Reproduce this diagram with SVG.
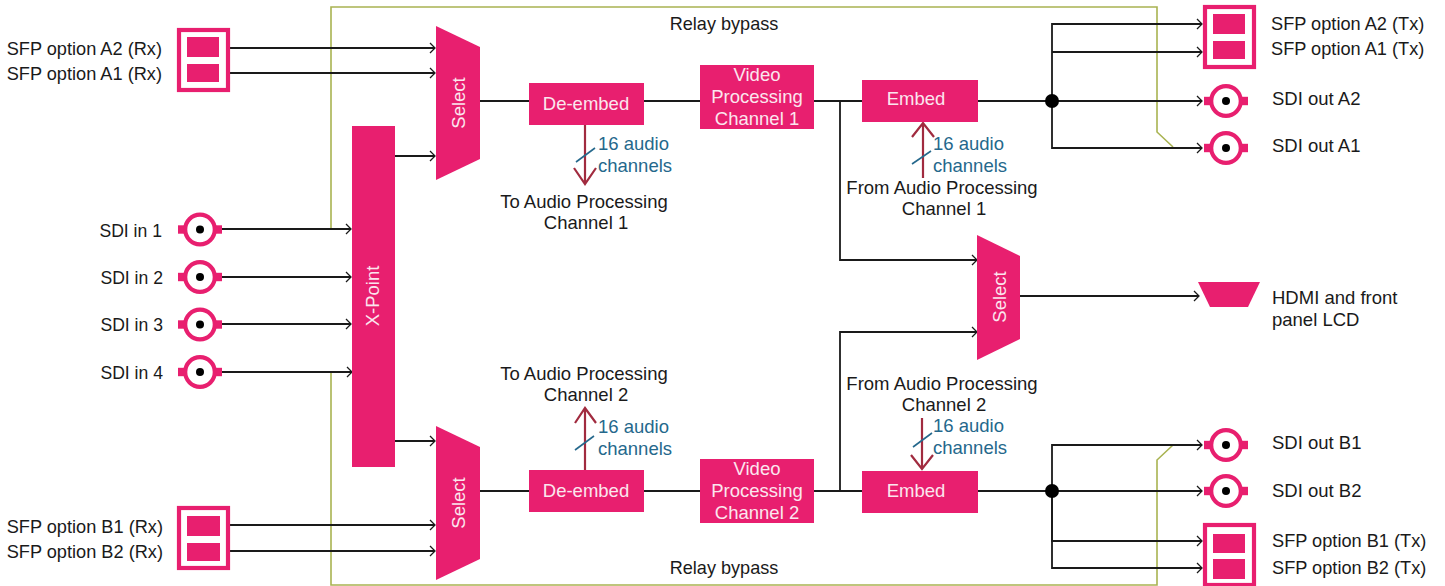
<svg xmlns="http://www.w3.org/2000/svg" xmlns:xlink="http://www.w3.org/1999/xlink" width="1445" height="586" viewBox="0 0 1445 586">
<style>
text{font-family:"Liberation Sans",Arial,sans-serif;font-size:18.5px;fill:#1a1a1a}
.w{fill:#fbe6ee;text-anchor:middle}
.m{text-anchor:middle}
.e{text-anchor:end}
.t{fill:#25688c}
.o{font-size:18.2px}
.i{font-size:17.6px}
.y{font-size:18.1px}
.p{fill:#e81f6f}
.l{fill:none;stroke:#1a1a1a;stroke-width:1.8}
.a{marker-end:url(#ah)}
.b{fill:none;stroke:#a9b351;stroke-width:1.6}
.r{fill:none;stroke:#a12b3f;stroke-width:2.2}
.s{fill:none;stroke:#25688c;stroke-width:1.6}
.f{fill:#fff;stroke:#e81f6f;stroke-width:4.2}
</style>
<defs>
<marker id="ah" markerUnits="userSpaceOnUse" markerWidth="10" markerHeight="12" refX="8" refY="6" orient="auto"><path d="M3,1 L8,6 L3,11" fill="none" stroke="#1a1a1a" stroke-width="1.3"/></marker>
<g id="bnc"><rect class="p" x="-22" y="-4.2" width="44" height="8.4"/><circle r="14.8" class="f"/><circle r="4" fill="#000"/></g>
</defs>
<g id="bypass">
<path class="b" d="M331,229V7H1157V132L1173,147"/>
<path class="b" d="M331,372V585H1157V460L1173,445"/>
</g>
<g id="connectors">
<path class="l a" d="M230,48H435"/><path class="l a" d="M230,73H435"/>
<path class="l a" d="M395,156H435"/>
<path class="l a" d="M222,229H351"/><path class="l a" d="M222,277H351"/><path class="l a" d="M222,324H351"/><path class="l a" d="M222,372H352"/>
<path class="l a" d="M395,441H435"/>
<path class="l a" d="M230,525H435"/><path class="l a" d="M230,551H435"/>
<path class="l" d="M480,101H1052"/>
<path class="l" d="M480,491H1052"/>
<path class="l a" d="M840,101V260H977"/>
<path class="l a" d="M840,491V332H977"/>
<path class="l a" d="M1020,296H1199"/>
<path class="l a" d="M1052,101V24H1202"/><path class="l a" d="M1052,52H1202"/><path class="l a" d="M1052,101H1202"/><path class="l a" d="M1052,101V148H1202"/>
<path class="l a" d="M1052,491V445H1202"/><path class="l a" d="M1052,491H1202"/><path class="l a" d="M1052,491V541H1202"/><path class="l a" d="M1052,491V568H1202"/>
<circle cx="1052" cy="101" r="7" fill="#000"/><circle cx="1052" cy="491" r="7" fill="#000"/>
<path class="r" d="M585,125V184M574,168L585,184L596,168"/><path class="s" d="M576,162L595,148"/>
<path class="r" d="M923,178V123M912,137L923,123L934,137"/><path class="s" d="M912,164L931,151"/>
<path class="r" d="M585,470V408M575,423L585,408L596,423"/><path class="s" d="M575,450L594,436"/>
<path class="r" d="M922,418V469M911,455L922,469L933,455"/><path class="s" d="M913,447L932,433"/>
</g>
<g id="sfp-a-rx"><rect x="179" y="30" width="49" height="60" fill="#fff" stroke="#e81f6f" stroke-width="4.2"/><rect class="p" x="187" y="37" width="32" height="20"/><rect class="p" x="187" y="64" width="32" height="18"/>
<text class="e o" x="162" y="55">SFP option A2 (Rx)</text><text class="e o" x="162" y="80">SFP option A1 (Rx)</text></g>
<g id="sfp-b-rx"><rect x="179" y="508" width="49" height="60" fill="#fff" stroke="#e81f6f" stroke-width="4.2"/><rect class="p" x="187" y="516" width="33" height="20"/><rect class="p" x="187" y="543" width="33" height="18"/>
<text class="e o" x="163" y="533">SFP option B1 (Rx)</text><text class="e o" x="163" y="558">SFP option B2 (Rx)</text></g>
<g id="sdi-in-1"><use xlink:href="#bnc" x="200" y="229.500"/><text class="e i" x="162" y="237">SDI in 1</text></g>
<g id="sdi-in-2"><use xlink:href="#bnc" x="200" y="277"/><text class="e i" x="163" y="284">SDI in 2</text></g>
<g id="sdi-in-3"><use xlink:href="#bnc" x="200" y="324.500"/><text class="e i" x="163" y="331">SDI in 3</text></g>
<g id="sdi-in-4"><use xlink:href="#bnc" x="200" y="372"/><text class="e i" x="163" y="379">SDI in 4</text></g>
<g id="xpoint"><rect class="p" x="352" y="126" width="43" height="341"/><text class="w" transform="translate(379,296) rotate(-90)">X-Point</text></g>
<g id="select-a"><polygon class="p" points="436,26 480,47 480,159 436,180"/><text class="w" transform="translate(465,103) rotate(-90)">Select</text></g>
<g id="select-b"><polygon class="p" points="436,426 480,447 480,559 436,580"/><text class="w" transform="translate(465,503) rotate(-90)">Select</text></g>
<g id="select-mid"><polygon class="p" points="977,235 1020,256 1020,339 977,360"/><text class="w" transform="translate(1006,297) rotate(-90)">Select</text></g>
<g id="deembed-1"><rect class="p" x="529" y="83" width="115" height="42"/><text class="w" x="586" y="110">De-embed</text></g>
<g id="video-1"><rect class="p" x="700" y="65" width="114" height="64"/><text class="w" x="757" y="81">Video</text><text class="w" x="757" y="103">Processing</text><text class="w" x="757" y="125">Channel 1</text></g>
<g id="embed-1"><rect class="p" x="862" y="80" width="116" height="42"/><text class="w" x="916" y="105">Embed</text></g>
<g id="deembed-2"><rect class="p" x="529" y="470" width="115" height="42"/><text class="w" x="586" y="497">De-embed</text></g>
<g id="video-2"><rect class="p" x="700" y="459" width="114" height="64"/><text class="w" x="757" y="475">Video</text><text class="w" x="757" y="497">Processing</text><text class="w" x="757" y="519">Channel 2</text></g>
<g id="embed-2"><rect class="p" x="862" y="471" width="116" height="42"/><text class="w" x="916" y="497">Embed</text></g>
<g id="labels">
<text class="m y" x="724" y="30">Relay bypass</text><text class="m y" x="724" y="574">Relay bypass</text>
<text class="t" x="598" y="150">16 audio</text><text class="t" x="598" y="172">channels</text>
<text class="t" x="933" y="150">16 audio</text><text class="t" x="933" y="172">channels</text>
<text class="t" x="598" y="433">16 audio</text><text class="t" x="598" y="455">channels</text>
<text class="t" x="933" y="432">16 audio</text><text class="t" x="933" y="454">channels</text>
<text class="m" x="584" y="208">To Audio Processing</text><text class="m" x="586" y="229">Channel 1</text>
<text class="m" x="942" y="194">From Audio Processing</text><text class="m" x="944" y="215">Channel 1</text>
<text class="m" x="584" y="380">To Audio Processing</text><text class="m" x="586" y="401">Channel 2</text>
<text class="m" x="942" y="390">From Audio Processing</text><text class="m" x="944" y="411">Channel 2</text>
</g>
<g id="hdmi"><polygon class="p" points="1198,282 1260,282 1248,307 1210,307"/><text x="1272" y="304">HDMI and front</text><text x="1272" y="326">panel LCD</text></g>
<g id="sfp-a-tx"><rect x="1205" y="7" width="49" height="60" fill="#fff" stroke="#e81f6f" stroke-width="4.2"/><rect class="p" x="1213" y="14" width="32" height="20"/><rect class="p" x="1213" y="41" width="32" height="18"/>
<text class="o" x="1271" y="30">SFP option A2 (Tx)</text><text class="o" x="1271" y="55">SFP option A1 (Tx)</text></g>
<g id="sfp-b-tx"><rect x="1205" y="525" width="49" height="60" fill="#fff" stroke="#e81f6f" stroke-width="4.2"/><rect class="p" x="1213" y="534" width="32" height="19"/><rect class="p" x="1213" y="559" width="32" height="20"/>
<text class="o" x="1272" y="547">SFP option B1 (Tx)</text><text class="o" x="1272" y="574">SFP option B2 (Tx)</text></g>
<g id="sdi-out-a2"><use xlink:href="#bnc" x="1226" y="101"/><text x="1272" y="105">SDI out A2</text></g>
<g id="sdi-out-a1"><use xlink:href="#bnc" x="1226" y="148"/><text x="1272" y="152">SDI out A1</text></g>
<g id="sdi-out-b1"><use xlink:href="#bnc" x="1226" y="445"/><text x="1272" y="449">SDI out B1</text></g>
<g id="sdi-out-b2"><use xlink:href="#bnc" x="1226" y="491"/><text x="1272" y="497">SDI out B2</text></g>
</svg>
